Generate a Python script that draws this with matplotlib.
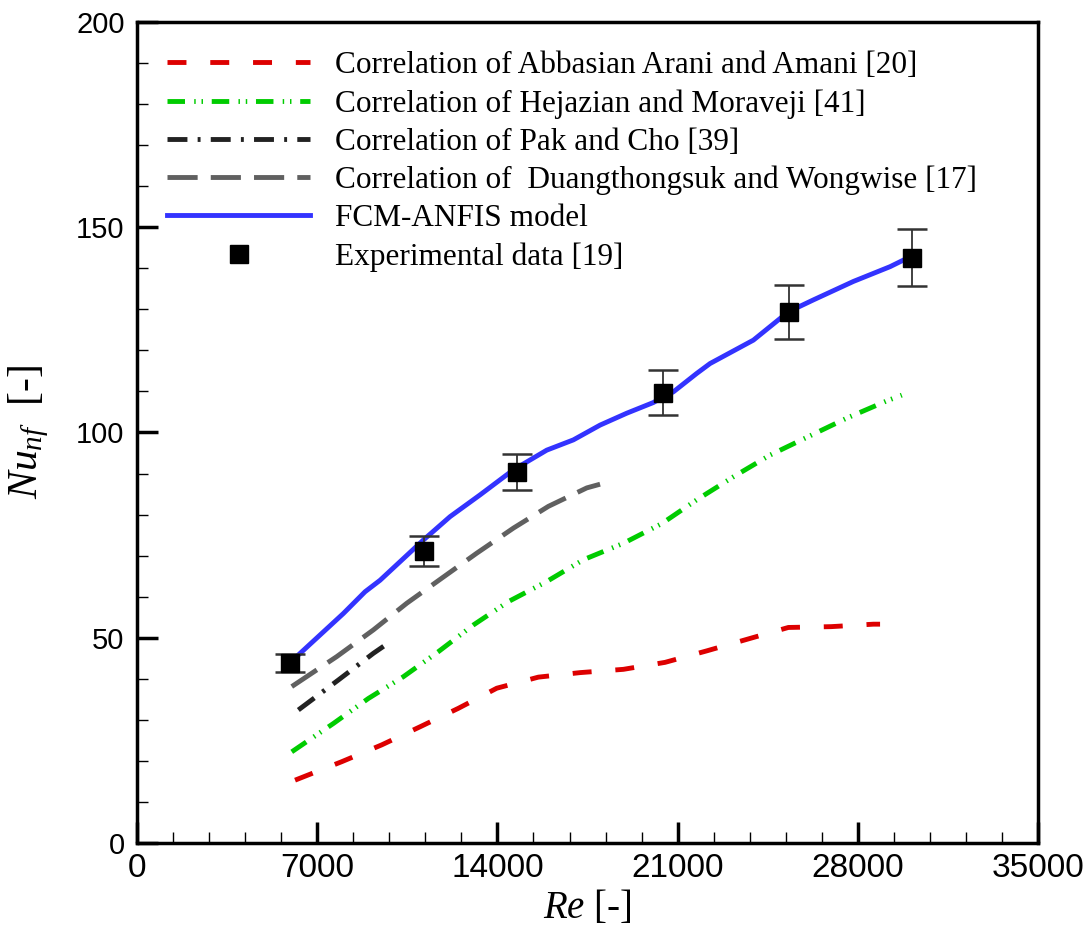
import numpy as np
import matplotlib
matplotlib.use("Agg")
import matplotlib.pyplot as plt
from matplotlib.ticker import MultipleLocator

plt.rcParams['mathtext.fontset'] = 'custom'
plt.rcParams['mathtext.rm'] = 'Liberation Serif'
plt.rcParams['mathtext.it'] = 'Liberation Serif:italic'

# experimental data [19]
exp_re = [5944, 11150, 14740, 20440, 25320, 30110]
exp_nu = [43.8, 71.2, 90.3, 109.7, 129.3, 142.6]
exp_err = [2.2, 3.7, 4.4, 5.5, 6.6, 7.0]

# FCM-ANFIS model
anfis_re = [6266, 8014, 8857, 9440, 11122, 12159, 13324, 14618, 15915, 16949,
            17986, 19023, 20056, 20445, 20833, 21742, 22258, 23941, 25300,
            26271, 27826, 29251, 30028]
anfis_nu = [45.8, 55.9, 61.2, 64.0, 73.8, 79.5, 84.8, 90.9, 95.7, 98.2,
            101.8, 104.7, 107.3, 108.7, 109.9, 114.4, 116.8, 122.5, 129.4,
            132.3, 136.8, 140.4, 142.8]

# Abbasian Arani and Amani [20]
abb_re = [6138, 7952, 9506, 10993, 12481, 13973, 15589, 17209, 18891, 20511,
          22131, 23685, 25300, 26959, 28602, 28862]
abb_nu = [15.3, 19.8, 23.9, 28.3, 32.8, 37.7, 40.4, 41.5, 42.3, 44.0,
          46.8, 49.6, 52.5, 52.7, 53.3, 53.3]

# Hejazian and Moraveji [41]
hej_re = [6010, 7625, 8985, 10345, 11704, 13064, 14424, 15915, 17337, 18891,
          20382, 21742, 23164, 24589, 26077, 27569, 29123, 29706]
hej_nu = [22.2, 29.1, 35.2, 40.5, 46.6, 53.1, 58.8, 63.7, 69.0, 73.0,
          77.8, 83.6, 89.2, 94.5, 99.0, 103.5, 107.7, 109.1]

# Pak and Cho [39]
pak_re = [6266, 7820, 9179, 9828]
pak_nu = [32.4, 39.7, 46.2, 49.0]

# Duangthongsuk and Wongwise [17]
dua_re = [6010, 7757, 9179, 10477, 11836, 13196, 14618, 15977, 17469, 17986]
dua_nu = [38.1, 45.4, 51.9, 58.4, 64.5, 70.6, 76.7, 82.0, 86.5, 87.4]

fig = plt.figure(figsize=(10.91, 9.33), dpi=100)
ax = fig.add_axes([0.1256, 0.0965, 0.8259, 0.8799])

lw = 3.5
ax.plot(abb_re, abb_nu, color='#dd0000', lw=lw, linestyle=(0, (3.9, 4.9)),
        label='Correlation of Abbasian Arani and Amani [20]')
ax.plot(hej_re, hej_nu, color='#00cc00', lw=lw,
        linestyle=(0, (3.6, 1.9, 0.3, 1.2, 0.3, 1.8)),
        label='Correlation of Hejazian and Moraveji [41]')
ax.plot(pak_re, pak_nu, color='#222222', lw=lw,
        linestyle=(0, (4.1, 2.1, 0.6, 2.1)),
        label='Correlation of Pak and Cho [39]')
ax.plot(dua_re, dua_nu, color='#606060', lw=lw, linestyle=(0, (6.2, 2.7)),
        label='Correlation of  Duangthongsuk and Wongwise [17]')
ax.plot(anfis_re, anfis_nu, color='#3333ff', lw=lw, label='FCM-ANFIS model')
ax.errorbar(exp_re, exp_nu, yerr=exp_err, fmt='none', ecolor='#333333',
            elinewidth=1.3, capsize=11, capthick=1.8, zorder=4)
ax.plot(exp_re, exp_nu, 's', color='black', markersize=13, linestyle='none',
        label='Experimental data [19]', zorder=5)

ax.set_xlim(0, 35000)
ax.set_ylim(0, 200)
ax.set_xticks([0, 7000, 14000, 21000, 28000, 35000])
ax.set_yticks([0, 50, 100, 150, 200])
ax.xaxis.set_minor_locator(MultipleLocator(1400))
ax.yaxis.set_minor_locator(MultipleLocator(10))
ax.tick_params(which='major', direction='in', length=15, width=2.5,
               top=False, right=False)
ax.tick_params(which='minor', direction='in', length=8, width=1,
               top=False, right=False)
ax.tick_params(axis='x', which='major', pad=7)
ax.tick_params(axis='y', which='major', pad=9)
for lab in ax.get_xticklabels():
    lab.set_fontfamily('Liberation Sans')
    lab.set_fontsize(24)
for lab in ax.get_yticklabels():
    lab.set_fontfamily('Liberation Sans')
    lab.set_fontsize(21)
for sp in ax.spines.values():
    sp.set_linewidth(2.5)

ax.set_xlabel(r'$\mathit{Re}$ [-]', fontsize=28, family='Liberation Serif')
ax.set_ylabel(r'$\mathit{Nu}_{\mathit{nf}}$  [-]', fontsize=30,
              family='Liberation Serif', labelpad=18)

leg = ax.legend(loc='upper left', frameon=False,
                prop={'family': 'Liberation Serif', 'size': 22.5},
                handlelength=4.6, handletextpad=0.8, labelspacing=0.29,
                borderaxespad=0.0, bbox_to_anchor=(0.019, 0.98))

fig.savefig('out.png', dpi=100)
